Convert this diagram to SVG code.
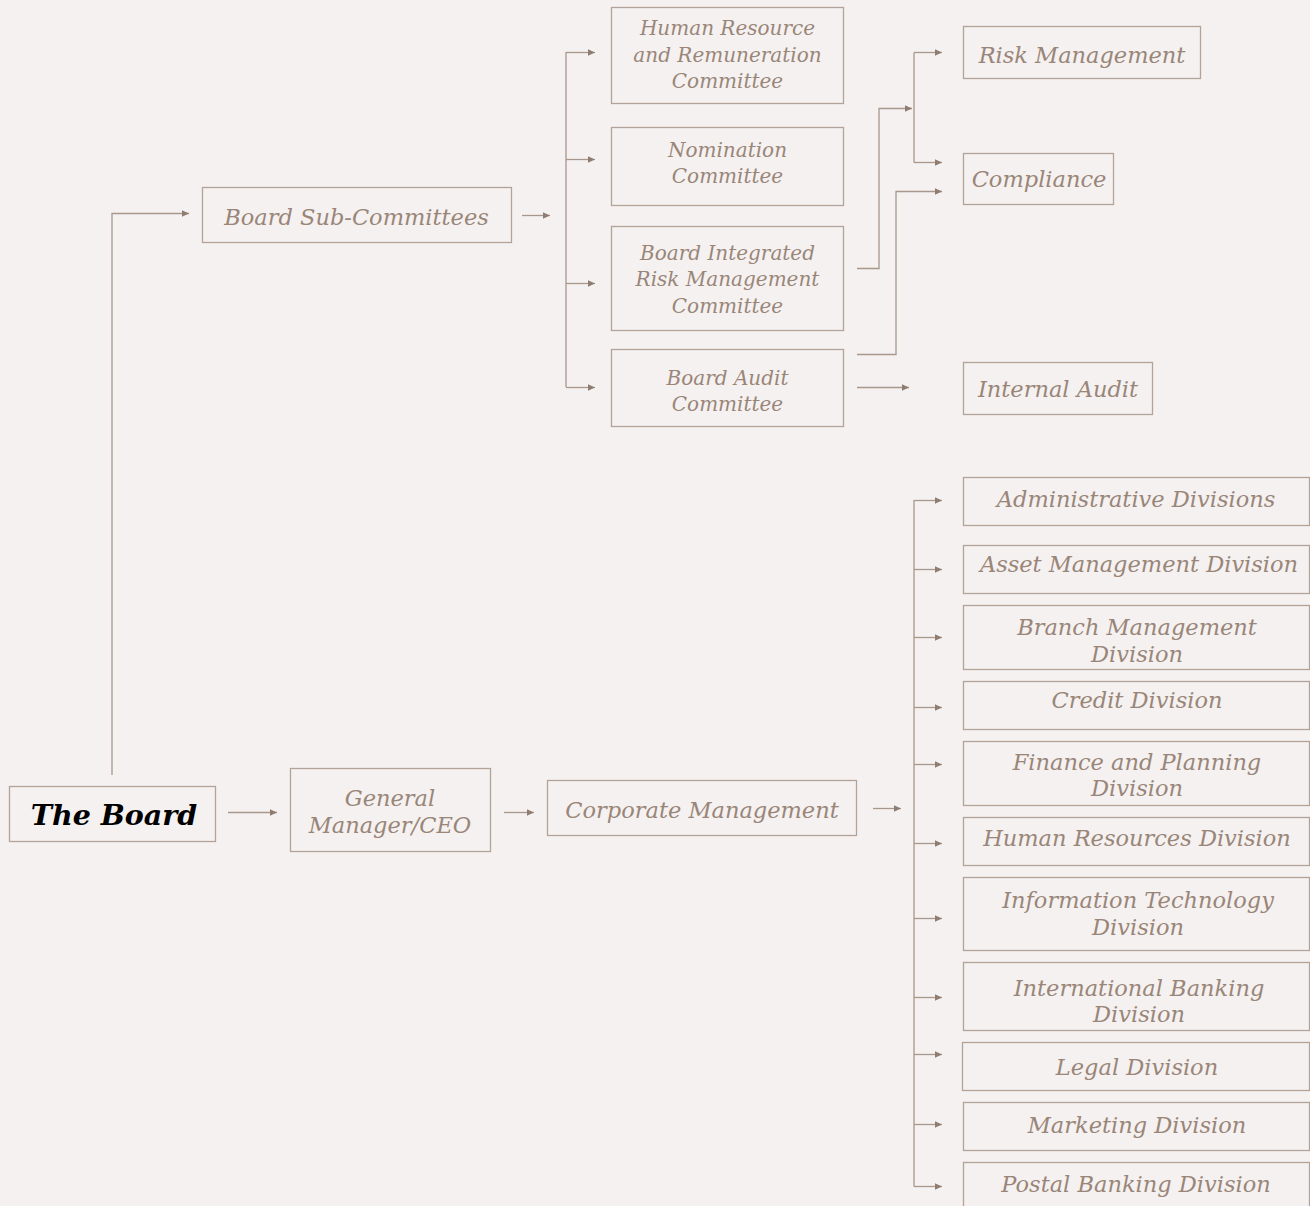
<svg xmlns="http://www.w3.org/2000/svg" width="1310" height="1206" viewBox="0 0 1310 1206">
  <style>
    .box { fill: none; stroke: #b2a297; stroke-width: 1.3; }
    .t { font-family: "DejaVu Serif", "Liberation Serif", serif; font-style: italic; fill: #998679; text-anchor: middle; }
    .big { font-size: 22.5px; }
    .small { font-size: 20px; }
    .board { font-family: "DejaVu Serif", "Liberation Serif", serif; font-style: italic; font-weight: bold; font-size: 28.5px; fill: #000; text-anchor: middle; }
    .ln { fill: none; stroke: #a8978b; stroke-width: 1.3; }
    .arr { marker-end: url(#ah); }
  </style>
  <defs>
    <marker id="ah" viewBox="0 0 8 8" refX="7" refY="4" markerWidth="8" markerHeight="8" markerUnits="userSpaceOnUse" orient="auto">
      <path d="M0,0.8 L7,4 L0,7.2 Z" fill="#8f7d71"/>
    </marker>
  </defs>
  <rect width="1310" height="1206" fill="#f5f1f0"/>

  <!-- connectors -->
  <g id="connectors">
    <path class="ln arr" d="M112,775 V213.5 H189"/>
    <path class="ln arr" d="M228,812.5 H277"/>
    <path class="ln arr" d="M504,812.5 H534"/>
    <path class="ln arr" d="M873,808.5 H901"/>
    <path class="ln arr" d="M522,215.5 H550"/>

    <!-- committee bus -->
    <path class="ln" d="M566,52 V387"/>
    <path class="ln arr" d="M566,52.5 H595"/>
    <path class="ln arr" d="M566,159.5 H595"/>
    <path class="ln arr" d="M566,283.5 H595"/>
    <path class="ln arr" d="M566,387.5 H595"/>

    <!-- risk committee to risk / compliance -->
    <path class="ln arr" d="M857,268.5 H879 V108.5 H912"/>
    <path class="ln" d="M914,52.5 V162.5"/>
    <path class="ln arr" d="M914,52.5 H942"/>
    <path class="ln arr" d="M914,162.5 H942"/>
    <path class="ln arr" d="M857,354.5 H896 V191.5 H942"/>
    <path class="ln arr" d="M857,387.5 H909"/>

    <!-- division bus -->
    <path class="ln" d="M914,500 V1186.5"/>
    <path class="ln arr" d="M914,500.5 H942"/>
    <path class="ln arr" d="M914,569.5 H942"/>
    <path class="ln arr" d="M914,637.5 H942"/>
    <path class="ln arr" d="M914,707.5 H942"/>
    <path class="ln arr" d="M914,764.5 H942"/>
    <path class="ln arr" d="M914,843.5 H942"/>
    <path class="ln arr" d="M914,918.5 H942"/>
    <path class="ln arr" d="M914,997.5 H942"/>
    <path class="ln arr" d="M914,1054.5 H942"/>
    <path class="ln arr" d="M914,1124.5 H942"/>
    <path class="ln arr" d="M914,1186.5 H942"/>
  </g>

  <g id="the-board">
    <rect class="box" x="9.5" y="786.5" width="206" height="55"/>
    <text class="board" x="114" y="825">The Board</text>
  </g>
  <g id="general-manager">
    <rect class="box" x="290.5" y="768.5" width="200" height="83"/>
    <text class="t big" x="390" y="806">General</text>
    <text class="t big" x="390" y="833">Manager/CEO</text>
  </g>
  <g id="corporate-management">
    <rect class="box" x="547.5" y="780.5" width="309" height="55"/>
    <text class="t big" x="702" y="818">Corporate Management</text>
  </g>
  <g id="board-sub-committees">
    <rect class="box" x="202.5" y="187.5" width="309" height="55"/>
    <text class="t big" x="356.5" y="225">Board Sub-Committees</text>
  </g>

  <g id="hr-remuneration-committee">
    <rect class="box" x="611.5" y="7.5" width="232" height="96"/>
    <text class="t small" x="727.5" y="35">Human Resource</text>
    <text class="t small" x="727.5" y="62">and Remuneration</text>
    <text class="t small" x="727.5" y="88">Committee</text>
  </g>
  <g id="nomination-committee">
    <rect class="box" x="611.5" y="127.5" width="232" height="78"/>
    <text class="t small" x="727.5" y="157">Nomination</text>
    <text class="t small" x="727.5" y="183">Committee</text>
  </g>
  <g id="board-integrated-risk-committee">
    <rect class="box" x="611.5" y="226.5" width="232" height="104"/>
    <text class="t small" x="727.5" y="260">Board Integrated</text>
    <text class="t small" x="727.5" y="286">Risk Management</text>
    <text class="t small" x="727.5" y="313">Committee</text>
  </g>
  <g id="board-audit-committee">
    <rect class="box" x="611.5" y="349.5" width="232" height="77"/>
    <text class="t small" x="727.5" y="385">Board Audit</text>
    <text class="t small" x="727.5" y="411">Committee</text>
  </g>

  <g id="risk-management">
    <rect class="box" x="963.5" y="26.5" width="237" height="52"/>
    <text class="t big" x="1082" y="63">Risk Management</text>
  </g>
  <g id="compliance">
    <rect class="box" x="963.5" y="153.5" width="150" height="51"/>
    <text class="t big" x="1039" y="187">Compliance</text>
  </g>
  <g id="internal-audit">
    <rect class="box" x="963.5" y="362.5" width="189" height="52"/>
    <text class="t big" x="1058" y="397">Internal Audit</text>
  </g>

  <g id="administrative-divisions">
    <rect class="box" x="963.5" y="477.5" width="346" height="48"/>
    <text class="t big" x="1136" y="507">Administrative Divisions</text>
  </g>
  <g id="asset-management-division">
    <rect class="box" x="963.5" y="545.5" width="346" height="48"/>
    <text class="t big" x="1139" y="572">Asset Management Division</text>
  </g>
  <g id="branch-management-division">
    <rect class="box" x="963.5" y="605.5" width="346" height="64"/>
    <text class="t big" x="1137" y="635">Branch Management</text>
    <text class="t big" x="1137" y="662">Division</text>
  </g>
  <g id="credit-division">
    <rect class="box" x="963.5" y="681.5" width="346" height="48"/>
    <text class="t big" x="1137" y="708">Credit Division</text>
  </g>
  <g id="finance-planning-division">
    <rect class="box" x="963.5" y="741.5" width="346" height="64"/>
    <text class="t big" x="1137" y="770">Finance and Planning</text>
    <text class="t big" x="1137" y="796">Division</text>
  </g>
  <g id="human-resources-division">
    <rect class="box" x="963.5" y="817.5" width="346" height="48"/>
    <text class="t big" x="1137" y="846">Human Resources Division</text>
  </g>
  <g id="information-technology-division">
    <rect class="box" x="963.5" y="877.5" width="346" height="73"/>
    <text class="t big" x="1138" y="908">Information Technology</text>
    <text class="t big" x="1138" y="935">Division</text>
  </g>
  <g id="international-banking-division">
    <rect class="box" x="963.5" y="962.5" width="346" height="68"/>
    <text class="t big" x="1139" y="996">International Banking</text>
    <text class="t big" x="1139" y="1022">Division</text>
  </g>
  <g id="legal-division">
    <rect class="box" x="962.5" y="1042.5" width="347" height="48"/>
    <text class="t big" x="1137" y="1075">Legal Division</text>
  </g>
  <g id="marketing-division">
    <rect class="box" x="963.5" y="1102.5" width="346" height="48"/>
    <text class="t big" x="1137" y="1133">Marketing Division</text>
  </g>
  <g id="postal-banking-division">
    <rect class="box" x="963.5" y="1162.5" width="346" height="50"/>
    <text class="t big" x="1136" y="1192">Postal Banking Division</text>
  </g>
</svg>
